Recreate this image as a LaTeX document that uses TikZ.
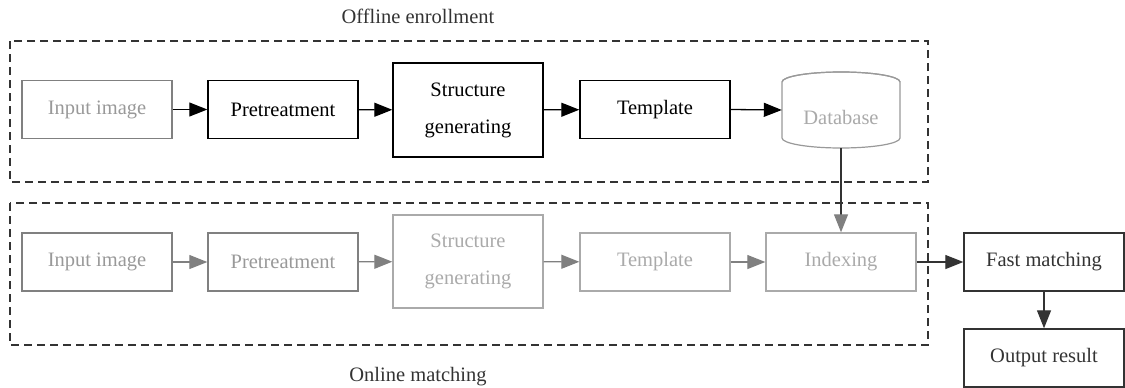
\documentclass[tikz,border=0pt]{standalone}
\usepackage{fontspec}
\setmainfont{Liberation Serif}
\usetikzlibrary{arrows.meta}
\definecolor{gA}{HTML}{808080}
\definecolor{gT}{HTML}{999999}
\definecolor{gL}{HTML}{AAAAAA}
\definecolor{dk}{HTML}{333333}
\tikzset{
  box/.style={draw, line width=1.4pt, minimum width=150pt, minimum height=58pt, inner sep=0pt, align=center, font=\rmfamily\fontsize{20.5}{37}\selectfont},
  blk/.style={box, draw=black, text=black},
  grb/.style={box, draw=gA, text=gT},
  ltb/.style={box, draw=gL, text=gL},
  dkb/.style={box, draw=dk, text=dk, minimum width=160pt},
  arr/.style={line width=1.3pt, -{Triangle[length=18pt,width=14pt]}},
  grp/.style={draw=dk, line width=1.4pt, dash pattern=on 8pt off 5pt},
  lbl/.style={text=dk, font=\rmfamily\fontsize{20.5}{24}\selectfont}
}
\begin{document}
\begin{tikzpicture}[x=1pt,y=-1pt]
\useasboundingbox (0,0) rectangle (1125,388);
% groups
\draw[grp] (10,41) rectangle (928,182);
\draw[grp] (10,203) rectangle (928,345);
\node[lbl] (offl) at (418,16) {Offline enrollment};
\node[lbl] (onl) at (418,377) {Online matching};
% offline row
\node[grb] (i1) at (97,109.5) {Input image};
\node[blk] (p1) at (283,109.5) {Pretreatment};
\node[blk, minimum height=94pt] (s1) at (468,110) {Structure\\generating};
\node[blk] (t1) at (655,109.5) {Template};
\node[minimum width=118pt, minimum height=76pt, inner sep=0pt] (db) at (841,110) {};
\draw[gT, line width=1.2pt, fill=white] (782,82) -- (782,138) arc[start angle=180, end angle=360, x radius=59pt, y radius=10pt] -- (900,82) arc[start angle=0, end angle=180, x radius=59pt, y radius=10pt];
\draw[gT, line width=1.2pt] (782,82) arc[start angle=180, end angle=360, x radius=59pt, y radius=-10pt];
\node[text=gL, font=\rmfamily\fontsize{20.5}{24}\selectfont] (dbt) at (841,117) {Database};
\draw[arr, black] (i1) -- (p1);
\draw[arr, black] (p1) -- (s1);
\draw[arr, black] (s1) -- (t1);
\draw[arr, black] (t1.east) -- (db.west);
% online row
\node[grb] (i2) at (97,262) {Input image};
\node[grb] (p2) at (283,262) {Pretreatment};
\node[ltb, minimum height=93pt] (s2) at (468,261.5) {Structure\\generating};
\node[ltb] (t2) at (655,262) {Template};
\node[ltb] (x2) at (841,262) {Indexing};
\node[dkb] (fm) at (1044,262) {Fast matching};
\node[dkb] (out) at (1044,358) {Output result};
\draw[arr, gA] (i2) -- (p2);
\draw[arr, gA] (p2) -- (s2);
\draw[arr, gA] (s2) -- (t2);
\draw[arr, gA] (t2) -- (x2);
\draw[line width=1.3pt, dk, -{Triangle[length=18pt,width=14pt,color=gA]}] (db.south) -- (x2.north);
\draw[arr, dk] (x2) -- (fm);
\draw[arr, dk] (fm) -- (out);
\end{tikzpicture}
\end{document}
